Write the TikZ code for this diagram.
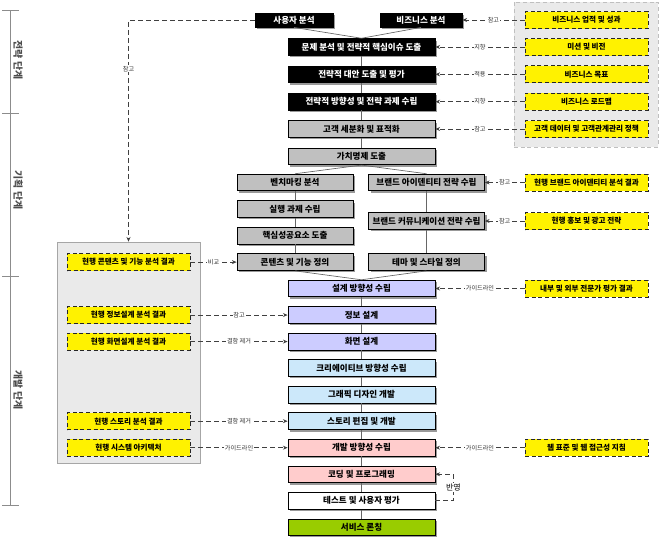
\documentclass[tikz,border=0pt]{standalone}
\usepackage{fontspec}
\setmainfont{Noto Sans CJK KR}
\usepackage{xcolor}
\usetikzlibrary{positioning, arrows.meta, shadows}

\definecolor{boxgray}{RGB}{192,192,192}
\definecolor{lavender}{RGB}{204,204,255}
\definecolor{skyblue}{RGB}{204,232,250}
\definecolor{rose}{RGB}{255,204,204}
\definecolor{lime}{RGB}{153,204,0}
\definecolor{grpgray}{RGB}{234,234,234}

\begin{document}
\begin{tikzpicture}[
  x=0.75pt, y=-0.75pt,
  node distance=6.8pt,
  every node/.style={font=\bfseries\fontsize{6.4}{7}\selectfont},
  box/.style={rectangle, draw=black, line width=0.6pt, minimum width=110.25pt,
              minimum height=12.5pt, inner sep=0pt,
              drop shadow={shadow xshift=1.5pt, shadow yshift=-1.5pt, fill=black!40, opacity=1}},
  blk/.style={box, fill=black, text=white},
  gry/.style={box, fill=boxgray},
  brn/.style={gry, minimum width=87pt},
  dsn/.style={box, fill=lavender},
  crt/.style={box, fill=skyblue},
  dev/.style={box, fill=rose},
  tstbox/.style={box, fill=white},
  lch/.style={box, fill=lime},
  ref/.style={rectangle, draw=black!85, dash pattern=on 3pt off 2pt, line width=0.7pt,
              fill=yellow, minimum width=92.25pt, minimum height=12.75pt, inner sep=0pt,
              font=\bfseries\fontsize{5.7}{6.5}\selectfont},
  grpR/.style={rectangle, draw=black!25, dash pattern=on 3pt off 2pt, fill=grpgray, line width=0.6pt},
  grpL/.style={rectangle, draw=black!35, fill=grpgray, line width=0.5pt},
  arr/.style={draw=black!75, line width=0.7pt, dash pattern=on 3.5pt off 2.5pt,
              -{Stealth[length=3.5pt, width=3pt]}},
  lnk/.style={draw=black!60, line width=0.5pt},
  lbl/.style={font=\fontsize{4.6}{5}\selectfont, fill=white, inner sep=0.6pt, text=black!80},
  phase/.style={font=\bfseries\fontsize{7.4}{8}\selectfont, text=black!70, rotate=-90}
]
\useasboundingbox (0,0) rectangle (660,536);
% ── phase ruler ───────────────────────────────
\draw[black!45, line width=0.5pt] (10.5,10) -- (10.5,505);
\foreach \y in {10,113,276,505}
  \draw[black!45, line width=0.5pt] (2,\y) -- (19,\y);
\node[phase] (p1) at (18,60) {전략 단계};
\node[phase] (p2) at (18,190) {기획 단계};
\node[phase] (p3) at (18,390) {개발 단계};
% ── groups ────────────────────────────────────
\coordinate (xr) at (586.5,0);
\coordinate (xl) at (128.5,0);
\node[grpR, minimum width=108pt, minimum height=108.75pt] (rgrp) at (586,74.5) {};
\node[grpL, minimum width=107.25pt, minimum height=165.75pt] (lgrp) at (128.5,352.5) {};
% ── strategy ──────────────────────────────────
\node[blk, minimum width=58.5pt, minimum height=10.5pt] (usr) at (294,20) {사용자 분석};
\node[blk, minimum width=61.5pt, minimum height=10.5pt] (biz) at (421,20) {비즈니스 분석};
\node[blk] (iss) at (361.5,47) {문제 분석 및 전략적 핵심이슈 도출};
\node[blk, below=7.4pt of iss] (alt) {전략적 대안 도출 및 평가};
\node[blk, below=7.4pt of alt] (dir) {전략적 방향성 및 전략 과제 수립};
\node[gry, below=7.4pt of dir] (seg) {고객 세분화 및 표적화};
\node[gry, below=7.4pt of seg] (val) {가치명제 도출};
% ── planning ──────────────────────────────────
\node[brn] (bmk) at (295,182.5) {벤치마킹 분석};
\node[brn, below=of bmk] (tsk) {실행 과제 수립};
\node[brn, below=of tsk] (csf) {핵심성공요소 도출};
\node[brn, below=of csf] (cnt) {콘텐츠 및 기능 정의};
\node[brn] (bid) at (426.5,182.5) {브랜드 아이덴티티 전략 수립};
\node[brn] (bcm) at (426.5,221) {브랜드 커뮤니케이션 전략 수립};
\node[brn] (thm) at (bid |- cnt) {테마 및 스타일 정의};
% ── development ───────────────────────────────
\node[dsn] (dsg) at (361.5,288.5) {설계 방향성 수립};
\node[dsn, below=of dsg] (inf) {정보 설계};
\node[dsn, below=of inf] (scr) {화면 설계};
\node[crt, below=of scr] (crd) {크리에이티브 방향성 수립};
\node[crt, below=of crd] (gfx) {그래픽 디자인 개발};
\node[crt, below=of gfx] (sty) {스토리 편집 및 개발};
\node[dev, below=of sty] (ddr) {개발 방향성 수립};
\node[dev, below=of ddr] (cod) {코딩 및 프로그래밍};
\node[tstbox, below=of cod] (tst) {테스트 및 사용자 평가};
\node[lch, below=of tst] (lnc) {서비스 론칭};
% ── inputs, right ─────────────────────────────
\node[ref] (rperf) at (xr |- biz) {비즈니스 업적 및 성과};
\node[ref] (rvis) at (xr |- iss) {미션 및 비전};
\node[ref] (rgoal) at (xr |- alt) {비즈니스 목표};
\node[ref] (rmap) at (xr |- dir) {비즈니스 로드맵};
\node[ref] (rcrm) at (xr |- seg) {고객 데이터 및 고객관계관리 정책};
\node[ref] (rbid) at (xr |- bid) {현행 브랜드 아이덴티티 분석 결과};
\node[ref] (rpr) at (xr |- bcm) {현행 홍보 및 광고 전략};
\node[ref] (rexp) at (xr |- dsg) {내부 및 외부 전문가 평가 결과};
\node[ref] (rweb) at (xr |- ddr) {웹 표준 및 웹 접근성 지침};
% ── inputs, left ──────────────────────────────
\node[ref] (lcnt) at (xl |- cnt) {현행 콘텐츠 및 기능 분석 결과};
\node[ref] (linf) at (xl |- inf) {현행 정보설계 분석 결과};
\node[ref] (lscr) at (xl |- scr) {현행 화면설계 분석 결과};
\node[ref] (lsty) at (xl |- sty) {현행 스토리 분석 결과};
\node[ref] (lsys) at (xl |- ddr) {현행 시스템 아키텍처};
% ── flow ──────────────────────────────────────
\draw[lnk] (usr.south) -- (iss.north);
\draw[lnk] (biz.south) -- (iss.north);
\draw[lnk] (val.south) -- (bmk.north);
\draw[lnk] (val.south) -- (bid.north);
\draw[lnk] (cnt.south) -- (dsg.north);
\draw[lnk] (thm.south) -- (dsg.north);
\foreach \a/\b in {iss/alt, alt/dir, dir/seg, seg/val, bmk/tsk, tsk/csf, csf/cnt,
                   bid/bcm, bcm/thm, dsg/inf, inf/scr, scr/crd, crd/gfx, gfx/sty,
                   sty/ddr, ddr/cod, cod/tst, tst/lnc}
  \draw[lnk] (\a) -- (\b);
% ── references ────────────────────────────────
\draw[arr] (rperf) -- node[lbl]{참고} (biz);
\draw[arr] (rvis) -- node[lbl]{지향} (iss);
\draw[arr] (rgoal) -- node[lbl]{적용} (alt);
\draw[arr] (rmap) -- node[lbl]{지향} (dir);
\draw[arr] (rcrm) -- node[lbl]{참고} (seg);
\draw[arr] (rbid) -- node[lbl]{참고} (bid);
\draw[arr] (rpr) -- node[lbl]{참고} (bcm);
\draw[arr] (rexp) -- node[lbl]{가이드라인} (dsg);
\draw[arr] (rweb) -- node[lbl]{가이드라인} (ddr);
\draw[arr] (lcnt) -- node[lbl]{비교} (cnt);
\draw[arr] (linf) -- node[lbl]{참고} (inf);
\draw[arr] (lscr) -- node[lbl]{결함 제거} (scr);
\draw[arr] (lsty) -- node[lbl]{결함 제거} (sty);
\draw[arr] (lsys) -- node[lbl]{가이드라인} (ddr);
\draw[arr] (usr.west) -| node[lbl, pos=0.61]{참고} (lgrp.north);
\draw[arr] (tst.east) -- ++(18,0) |- node[lbl, pos=0.25, font=\fontsize{6}{7}\selectfont, text=black]{반영} (cod.east);
\end{tikzpicture}
\end{document}
